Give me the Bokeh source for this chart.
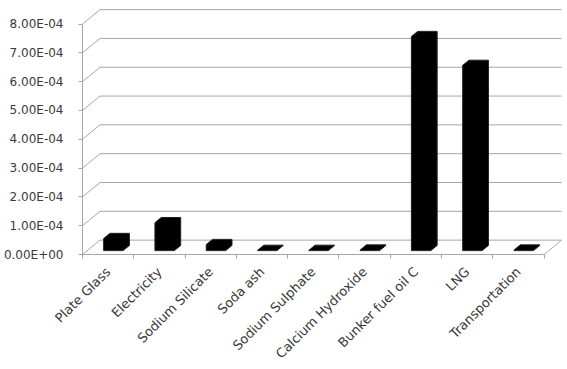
import math
from bokeh.plotting import figure
from bokeh.models import LinearAxis, FixedTicker, Range1d
from bokeh.embed import file_html
from bokeh.resources import INLINE

# ---- data ----
categories = ["Plate Glass", "Electricity", "Sodium Silicate", "Soda ash",
              "Sodium Sulphate", "Calcium Hydroxide", "Bunker fuel oil C",
              "LNG", "Transportation"]
values = [4.2e-5, 9.7e-5, 2.1e-5, 1.0e-6, 1.0e-6, 2.0e-6, 7.43e-4, 6.43e-4, 2.0e-6]
y_ticks = [0, 1e-4, 2e-4, 3e-4, 4e-4, 5e-4, 6e-4, 7e-4, 8e-4]
y_tick_labels = ["0.00E+00", "1.00E-04", "2.00E-04", "3.00E-04", "4.00E-04",
                 "5.00E-04", "6.00E-04", "7.00E-04", "8.00E-04"]

# ---- layout / style ----
W, H = 567, 369
BL, BR, BT, BB = 81, 2, 3, 113
FW, FH = W - BL - BR, H - BT - BB
PX_PER_CAT = 51.4
PX_PER_UNIT = 29.04 / 1e-4
DEPTH_DX_PX, DEPTH_DY_PX = 17.5, 14.5
n = len(categories)
x_end = FW / PX_PER_CAT
y_end = FH / PX_PER_UNIT
DX = DEPTH_DX_PX / PX_PER_CAT
DY = DEPTH_DY_PX / PX_PER_UNIT
GRAY = "#a6a6a6"
TXT = "#3a3a3a"
FONT = "DejaVu Sans"

p = figure(width=W, height=H, output_backend="svg", toolbar_location=None,
           x_axis_type=None, y_axis_type=None,
           x_range=Range1d(0, x_end), y_range=Range1d(0, y_end),
           min_border_left=BL, min_border_right=BR, min_border_top=BT,
           min_border_bottom=BB)
p.outline_line_color = None
p.background_fill_color = "white"
p.border_fill_color = "white"

# back wall gridlines (incl. floor back edge) and side-wall connectors
p.segment(x0=[DX] * len(y_ticks), y0=[v + DY for v in y_ticks],
          x1=[n + DX] * len(y_ticks), y1=[v + DY for v in y_ticks],
          line_color=GRAY, line_width=1)
p.segment(x0=[0] * len(y_ticks), y0=y_ticks,
          x1=[DX] * len(y_ticks), y1=[v + DY for v in y_ticks],
          line_color=GRAY, line_width=1)
# floor right edge
p.segment(x0=[n], y0=[0], x1=[n + DX], y1=[DY], line_color=GRAY, line_width=1)

# 3D bars (silhouette)
A, B = 0.27, 0.63       # front / back depth fraction
X0, X1 = 0.32, 0.70     # front face within category
xs, ys = [], []
for i, v in enumerate(values):
    xs.append([i + X0 + A * DX, i + X1 + A * DX, i + X1 + B * DX,
               i + X1 + B * DX, i + X0 + B * DX, i + X0 + A * DX])
    ys.append([A * DY, A * DY, B * DY, v + B * DY, v + B * DY, v + A * DY])
p.patches(xs=xs, ys=ys, fill_color="black", line_color="#222222", line_width=1,
          line_join="round")

# y axis
yax = LinearAxis(ticker=FixedTicker(ticks=y_ticks, minor_ticks=[]))
yax.bounds = (0, 8e-4)
yax.major_label_overrides = dict(zip(y_ticks, y_tick_labels))
yax.axis_line_color = GRAY
yax.major_tick_line_color = GRAY
yax.major_tick_out = 4
yax.major_tick_in = 0
yax.minor_tick_line_color = None
yax.major_label_standoff = 15
yax.major_label_text_font = FONT
yax.major_label_text_font_size = "12px"
yax.major_label_text_color = TXT
p.add_layout(yax, "left")

# x axis
centers = [i + 0.5 for i in range(n)]
xax = LinearAxis(ticker=FixedTicker(ticks=centers, minor_ticks=list(range(n + 1))))
xax.bounds = (0, n)
xax.major_label_overrides = dict(zip(centers, categories))
xax.axis_line_color = GRAY
xax.major_tick_line_color = None
xax.major_tick_out = 4
xax.minor_tick_line_color = GRAY
xax.minor_tick_out = 4
xax.minor_tick_in = 0
xax.major_label_orientation = math.pi / 4
xax.major_label_standoff = 11
xax.major_label_text_font = FONT
xax.major_label_text_font_size = "13px"
xax.major_label_text_color = TXT
p.add_layout(xax, "below")

open("out.html", "w").write(file_html(p, INLINE))
